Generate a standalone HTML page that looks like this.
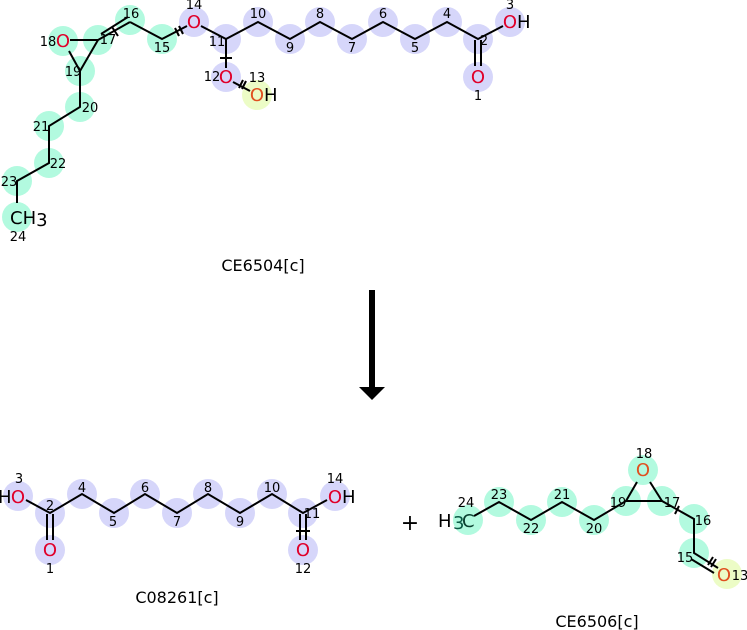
<!DOCTYPE html>
<html><head><meta charset="utf-8"><style>
html,body{margin:0;padding:0;background:#fff;}
svg{display:block;font-family:"DejaVu Sans","Liberation Sans",sans-serif;}
.b{fill:#d6d6fa}.g{fill:#b2fadf}.y{fill:#ecfcc6}
.n{font-size:13px;fill:#000;text-anchor:middle}
.o{font-size:18px;fill:#e0002a;text-anchor:middle}
.o2{font-size:18px;fill:#e05020;text-anchor:middle}
.h{font-size:18px;fill:#000}
.t{font-size:16px;fill:#000;text-anchor:middle}
line,polyline{stroke:#000;stroke-width:2;fill:none}
</style></head><body>
<svg width="747" height="630" viewBox="0 0 747 630" xmlns="http://www.w3.org/2000/svg">
<g class="b">
<circle cx="194" cy="22" r="15"/><circle cx="226" cy="39" r="15"/><circle cx="258" cy="22" r="15"/><circle cx="290" cy="39" r="15"/><circle cx="320" cy="22" r="15"/><circle cx="352" cy="39" r="15"/><circle cx="383" cy="22" r="15"/><circle cx="415" cy="39" r="15"/><circle cx="447" cy="22" r="15"/><circle cx="478" cy="39" r="15"/><circle cx="510" cy="22" r="15"/><circle cx="478" cy="77" r="15"/><circle cx="226" cy="77" r="15"/>
</g>
<circle class="y" cx="257" cy="95" r="15"/>
<g class="g">
<circle cx="63" cy="41" r="15"/><circle cx="98" cy="40" r="15"/><circle cx="130" cy="20" r="15"/><circle cx="162" cy="39" r="15"/><circle cx="80" cy="71" r="15"/><circle cx="80" cy="107" r="15"/><circle cx="49" cy="126" r="15"/><circle cx="49" cy="163" r="15"/><circle cx="17" cy="181" r="15"/><circle cx="17" cy="217" r="15"/>
</g>
<polyline points="17,203 17,181 49,163 49,126 80,107 80,71"/>
<line x1="80" y1="71" x2="98" y2="40"/><line x1="80" y1="71" x2="69" y2="51"/><line x1="70" y1="40" x2="98" y2="40"/>
<line x1="98" y1="40" x2="130" y2="22"/><line x1="101" y1="34" x2="128" y2="17"/>
<line x1="112" y1="27" x2="118" y2="36"/>
<polyline points="130,22 162,39 187,26"/>
<line x1="175" y1="28" x2="179" y2="36"/><line x1="179" y1="26" x2="183" y2="34"/>
<polyline points="201,26 226,39 258,22 290,39 320,22 352,39 383,22 415,39 447,22 478,39 503,26"/>
<line x1="226" y1="39" x2="226" y2="68"/><line x1="220" y1="58" x2="232" y2="58"/>
<line x1="233" y1="82" x2="250" y2="91"/><line x1="239" y1="88" x2="243" y2="80"/><line x1="242" y1="89" x2="246" y2="81"/>
<line x1="475" y1="40" x2="475" y2="66"/><line x1="481" y1="40" x2="481" y2="66"/>
<text class="o" x="63" y="47">O</text><text class="n" x="48" y="46">18</text>
<text class="n" x="108" y="44">17</text><text class="n" x="131" y="18">16</text><text class="n" x="162" y="52">15</text>
<text class="n" x="73" y="76">19</text><text class="n" x="90" y="112">20</text><text class="n" x="41" y="131">21</text><text class="n" x="58" y="168">22</text><text class="n" x="9" y="186">23</text>
<text x="10" y="224" style="font-size:18px">CH<tspan dy="2">3</tspan></text><text class="n" x="18" y="241">24</text>
<text class="o" x="194" y="28">O</text><text class="n" x="194" y="9">14</text>
<text class="n" x="217" y="46">11</text><text class="n" x="258" y="18">10</text><text class="n" x="290" y="52">9</text><text class="n" x="320" y="18">8</text><text class="n" x="352" y="52">7</text><text class="n" x="383" y="18">6</text><text class="n" x="415" y="52">5</text><text class="n" x="447" y="18">4</text><text class="n" x="484" y="45">2</text>
<text class="o" x="510" y="28">O</text><text class="h" x="517" y="28">H</text><text class="n" x="510" y="9">3</text>
<text class="o" x="478" y="83">O</text><text class="n" x="478" y="100">1</text>
<text class="o" x="226" y="83">O</text><text class="n" x="212" y="81">12</text>
<text class="o2" x="257" y="101">O</text><text class="h" x="264" y="101">H</text><text class="n" x="257" y="82">13</text>
<text class="t" x="263" y="271">CE6504[c]</text>
<rect x="369" y="290" width="6" height="98" fill="#000"/>
<polygon points="359,387 385,387 372,400" fill="#000"/>
<g class="b">
<circle cx="18" cy="496" r="15"/><circle cx="50" cy="513" r="15"/><circle cx="82" cy="494" r="15"/><circle cx="114" cy="513" r="15"/><circle cx="145" cy="494" r="15"/><circle cx="177" cy="513" r="15"/><circle cx="208" cy="494" r="15"/><circle cx="240" cy="513" r="15"/><circle cx="272" cy="494" r="15"/><circle cx="303" cy="513" r="15"/><circle cx="335" cy="496" r="15"/><circle cx="50" cy="550" r="15"/><circle cx="303" cy="550" r="15"/>
</g>
<polyline points="26,500 50,513 82,494 114,513 145,494 177,513 208,494 240,513 272,494 303,513 327,500"/>
<line x1="47" y1="514" x2="47" y2="540"/><line x1="53" y1="514" x2="53" y2="540"/>
<line x1="300" y1="514" x2="300" y2="540"/><line x1="306" y1="514" x2="306" y2="540"/><line x1="296" y1="531" x2="310" y2="531"/>
<text class="h" x="-2" y="503">H</text><text class="o" x="18" y="503">O</text><text class="n" x="19" y="483">3</text>
<text class="n" x="50" y="510">2</text><text class="n" x="82" y="492">4</text><text class="n" x="113" y="526">5</text><text class="n" x="145" y="492">6</text><text class="n" x="177" y="526">7</text><text class="n" x="208" y="492">8</text><text class="n" x="240" y="526">9</text><text class="n" x="272" y="492">10</text><text class="n" x="312" y="518">11</text>
<text class="o" x="335" y="503">O</text><text class="h" x="342" y="503">H</text><text class="n" x="335" y="483">14</text>
<text class="o" x="50" y="556">O</text><text class="n" x="50" y="573">1</text>
<text class="o" x="303" y="556">O</text><text class="n" x="303" y="573">12</text>
<text class="t" x="177" y="603">C08261[c]</text>
<text x="410" y="530" style="font-size:22px;text-anchor:middle">+</text>
<g class="g">
<circle cx="468" cy="520" r="15"/><circle cx="499" cy="502" r="15"/><circle cx="531" cy="520" r="15"/><circle cx="562" cy="502" r="15"/><circle cx="594" cy="520" r="15"/><circle cx="626" cy="501" r="15"/><circle cx="662" cy="501" r="15"/><circle cx="643" cy="470" r="15"/><circle cx="694" cy="519" r="15"/><circle cx="694" cy="553" r="15"/>
</g>
<circle class="y" cx="727" cy="574" r="15"/>
<polyline points="474,516 499,502 531,520 562,502 594,520 626,501 662,501 694,519 694,553 718,568"/>
<line x1="626" y1="501" x2="637" y2="482"/><line x1="662" y1="501" x2="650" y2="482"/>
<line x1="691" y1="559" x2="714" y2="573"/>
<line x1="675" y1="514" x2="679" y2="506"/>
<line x1="708" y1="565" x2="713" y2="557"/><line x1="711" y1="567" x2="716" y2="559"/>
<text class="h" x="438" y="527">H</text><text x="453" y="529" style="font-size:18px;fill:#0b5a45">3</text><text x="462" y="527" style="font-size:18px;fill:#0b4030">C</text><text class="n" x="466" y="507">24</text>
<text class="n" x="499" y="499">23</text><text class="n" x="531" y="533">22</text><text class="n" x="562" y="499">21</text><text class="n" x="594" y="533">20</text><text class="n" x="618" y="507">19</text><text class="n" x="672" y="507">17</text><text class="n" x="703" y="525">16</text><text class="n" x="685" y="562">15</text>
<text class="o2" x="643" y="476">O</text><text class="n" x="644" y="458">18</text>
<text class="o2" x="724" y="581">O</text><text class="n" x="740" y="580">13</text>
<text class="t" x="597" y="627">CE6506[c]</text>
</svg>
</body></html>
